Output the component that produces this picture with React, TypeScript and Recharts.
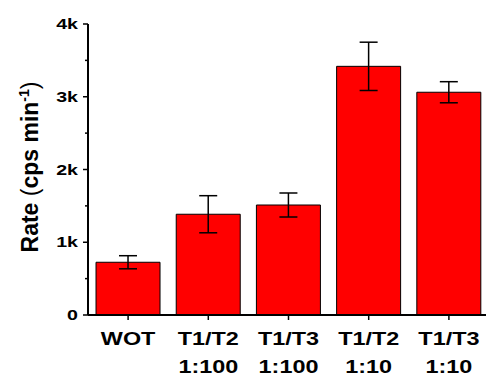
import React from 'react';
import { BarChart, Bar, XAxis, YAxis, ErrorBar } from 'recharts';

const groupLine1 = ['WOT', 'T1/T2', 'T1/T3', 'T1/T2', 'T1/T3'];
const groupLine2 = ['', '1:100', '1:100', '1:10', '1:10'];
const rates = [725, 1385, 1512, 3418, 3062];
const rateErrors = [90, 255, 165, 332, 145];
const yTicks = [0, 500, 1000, 1500, 2000, 2500, 3000, 3500, 4000];
const yTickLabels: Record<number, string> = { 0: '0', 1000: '1k', 2000: '2k', 3000: '3k', 4000: '4k' };

const data = groupLine1.map((g, i) => ({
  key: `${g}|${groupLine2[i]}`,
  line1: g,
  line2: groupLine2[i],
  rate: rates[i],
  err: rateErrors[i],
}));

const FONT = '"Liberation Sans", Arial, sans-serif';

const YTick = (props: any) => {
  const { x, y, payload } = props;
  const v = payload.value as number;
  const label = yTickLabels[v];
  if (label === undefined) {
    return <line x1={x - 3} x2={x} y1={y} y2={y} stroke="#000" strokeWidth={1.5} />;
  }
  return (
    <g>
      <line x1={x - 5} x2={x} y1={y} y2={y} stroke="#000" strokeWidth={1.5} />
      <g transform={`translate(${x - 10},${y + 5}) scale(1.4,1)`}>
        <text x={0} y={0} textAnchor="end" fontFamily={FONT} fontWeight="bold" fontSize={14} fill="#000">
          {label}
        </text>
      </g>
    </g>
  );
};

const XTick = (props: any) => {
  const { x, y, payload } = props;
  const row = data.find((d) => d.key === payload.value);
  return (
    <g>
      <line x1={x} x2={x} y1={y} y2={y + 5} stroke="#000" strokeWidth={1.5} />
      <g transform={`translate(${x},${y}) scale(1.3,1)`}>
        <text x={0} y={30} textAnchor="middle" fontFamily={FONT} fontWeight="bold" fontSize={18} fill="#000">
          {row?.line1}
        </text>
        <text x={0} y={58} textAnchor="middle" fontFamily={FONT} fontWeight="bold" fontSize={18} fill="#000">
          {row?.line2}
        </text>
      </g>
    </g>
  );
};

const YLabel = () => (
  <text
    x={38}
    y={167}
    transform="rotate(-90, 38, 167)"
    textAnchor="middle"
    fontFamily={FONT}
    fontWeight="bold"
    fontSize={23}
    fill="#000"
  >
    Rate <tspan fontWeight="normal">(</tspan>cps min
    <tspan fontSize={14} dy={-9}>-1</tspan>
    <tspan dy={9} fontWeight="normal">)</tspan>
  </text>
);

export default function App() {
  return (
    <div style={{ position: 'absolute', left: 0, top: 0, width: 486, height: 374, overflow: 'hidden', background: '#fff' }}>
      <BarChart
        width={500}
        height={374}
        data={data}
        margin={{ top: 24, right: 11, bottom: 0, left: 0 }}
        barCategoryGap="10%"
      >
        <XAxis
          dataKey="key"
          height={59}
          axisLine={{ stroke: '#000', strokeWidth: 2 }}
          tickLine={false}
          tickSize={0}
          tickMargin={0}
          interval={0}
          tick={<XTick />}
        />
        <YAxis
          width={88}
          domain={[0, 4000]}
          ticks={yTicks}
          interval={0}
          axisLine={{ stroke: '#000', strokeWidth: 2 }}
          tickLine={false}
          tickSize={0}
          tickMargin={0}
          tick={<YTick />}
          label={{ content: () => <YLabel /> }}
        />
        <Bar dataKey="rate" fill="#ff0000" stroke="#000" strokeWidth={1} isAnimationActive={false}>
          <ErrorBar dataKey="err" width={9} stroke="#000" strokeWidth={1.5} />
        </Bar>
      </BarChart>
    </div>
  );
}
